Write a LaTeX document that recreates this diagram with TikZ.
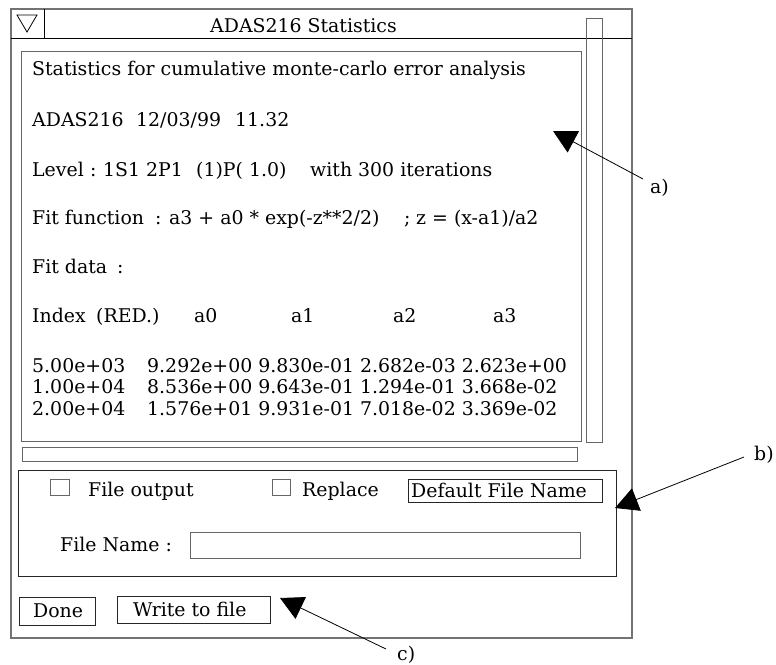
\documentclass[tikz,border=0pt]{standalone}
\usepackage{fontspec}
\setmainfont{DejaVu Serif}
\usetikzlibrary{arrows.meta}
\begin{document}
\begin{tikzpicture}[x=1pt,y=-1pt,
  frame/.style={draw=black!60, line width=1pt},
  darkframe/.style={draw=black!85, line width=1pt},
  txt/.style={anchor=base west, inner sep=0pt, font=\fontsize{18.9}{22}\selectfont},
  lbl/.style={anchor=base west, inner sep=0pt, font=\fontsize{18.9}{22}\selectfont},
  pointer/.style={draw=black, line width=0.8pt, -{Triangle[length=23pt,width=24pt]}}]
\useasboundingbox (0,0) rectangle (776,664);

% window outline and title bar
\draw[draw=black!55, line width=1.5pt] (11,9) rectangle (632,638);
\draw[line width=1pt] (11,38) -- (632,38);
\draw[line width=1pt] (44,9) -- (44,38);
\draw[line width=0.8pt] (17,15) -- (37,15) -- (27,32) -- cycle;
\node[txt] (title) at (210,32) {ADAS216 Statistics};

% scrolled text area with its scroll bars
\draw[frame] (21,51) rectangle (581,441);
\draw[frame] (586,18) rectangle (602,442);
\draw[frame] (22,447) rectangle (577,461);

% report text
\node[txt] (l1) at (32,75) {Statistics for cumulative monte-carlo error analysis};
\node[txt] (l2a) at (32,126) {ADAS216};
\node[txt] (l2b) at (136,126) {12/03/99};
\node[txt] (l2c) at (235,126) {11.32};
\node[txt] (l3a) at (32,176) {Level};
\node[txt] (l3b) at (90,176) {:};
\node[txt] (l3c) at (103,176) {1S1 2P1};
\node[txt] (l3d) at (196,176) {(1)P( 1.0)};
\node[txt] (l3e) at (310,176) {with 300 iterations};
\node[txt] (l4a) at (32,224) {Fit function};
\node[txt] (l4b) at (155,224) {:};
\node[txt] (l4c) at (169,224) {a3 + a0 * exp(-z**2/2)};
\node[txt] (l4d) at (404,224) {;};
\node[txt] (l4e) at (416,224) {z = (x-a1)/a2};
\node[txt] (l5a) at (32,273) {Fit data};
\node[txt] (l5b) at (117,273) {:};
\node[txt] (h0) at (32,322) {Index};
\node[txt] (h1) at (96,322) {(RED.)};
\node[txt] (h2) at (194,322) {a0};
\node[txt] (h3) at (291,322) {a1};
\node[txt] (h4) at (393,322) {a2};
\node[txt] (h5) at (493,322) {a3};
\node[txt] (r1c0) at (32,372) {5.00e+03};
\node[txt] (r1) at (147,372) {9.292e+00 9.830e-01 2.682e-03 2.623e+00};
\node[txt] (r2c0) at (32,393.5) {1.00e+04};
\node[txt] (r2) at (147,393.5) {8.536e+00 9.643e-01 1.294e-01 3.668e-02};
\node[txt] (r3c0) at (32,415) {2.00e+04};
\node[txt] (r3) at (147,415) {1.576e+01 9.931e-01 7.018e-02 3.369e-02};

% file output panel
\draw[darkframe] (18,470) rectangle (616,576);
\draw[frame] (50,479) rectangle (69,495);
\node[txt] (fileout) at (88,496) {File output};
\draw[frame] (272,479) rectangle (290,495);
\node[txt] (replace) at (302,496) {Replace};
\draw[darkframe] (408,479) rectangle (602,502);
\node[txt] (deffile) at (411,497) {Default File Name};
\node[txt] (fname) at (60,551) {File Name :};
\draw[frame] (190,532) rectangle (580,558);

% buttons
\draw[darkframe] (19,597) rectangle (95,625);
\node[txt] (done) at (33,617) {Done};
\draw[darkframe] (117,596) rectangle (270,623);
\node[txt] (write) at (133,616) {Write to file};

% callouts
\node[lbl] (la) at (650,193) {a)};
\node[lbl] (lb) at (754,460) {b)};
\node[lbl] (lc) at (397,660) {c)};
\coordinate (ta) at (553,131);
\coordinate (tb) at (615,508);
\coordinate (tc) at (280,598);
\coordinate (sa) at (643,179);
\coordinate (sb) at (744,457);
\coordinate (sc) at (386,649);
\draw[pointer] (sa) -- (ta);
\draw[pointer] (sb) -- (tb);
\draw[pointer] (sc) -- (tc);
\end{tikzpicture}
\end{document}
